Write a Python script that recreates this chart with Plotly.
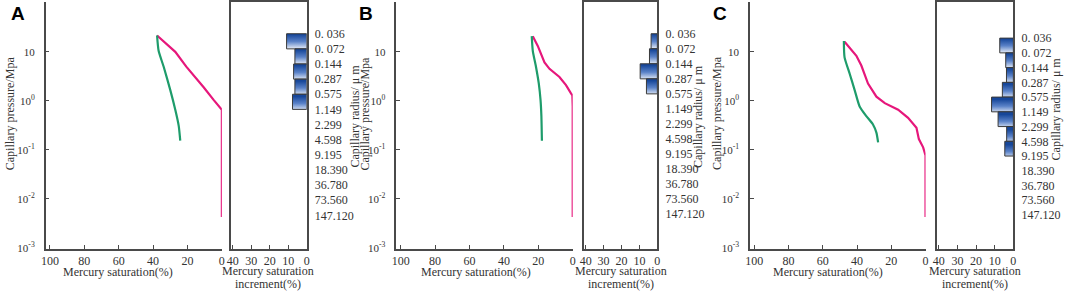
import plotly.graph_objects as go

W, H = 1065, 295

# ---------------- data ----------------
panels = ["A", "B", "C"]

# injection (pink) curves: mercury saturation (%) and capillary pressure (MPa)
inj_sat_A = [37.7, 27.1, 20.7, 15.5, 10.6, 4.8, 0.0, 0.0]
inj_p_A = [21.5, 10.0, 5.0, 3.1, 1.9, 1.05, 0.66, 0.0043]
wd_sat_A = [37.7, 36.8, 33.8, 30.0, 27.1, 25.1, 24.2]
wd_p_A = [21.5, 10.5, 4.9, 1.66, 0.66, 0.31, 0.155]

inj_sat_B = [23.2, 20.3, 16.4, 13.5, 7.7, 3.9, 1.0, 0.2, 0.0, 0.0]
inj_p_B = [20.9, 13.2, 6.1, 4.5, 3.07, 2.09, 1.42, 1.3, 0.77, 0.0043]
wd_sat_B = [23.8, 23.2, 21.3, 19.7, 18.7, 18.2, 17.9]
wd_p_B = [20.9, 10.5, 4.86, 2.25, 1.05, 0.49, 0.154]

inj_sat_C = [47.3, 40.4, 37.5, 33.6, 28.7, 23.8, 16.0, 10.2, 5.3, 3.9, 1.4, 0.0, 0.0]
inj_p_C = [16.1, 8.3, 5.25, 2.25, 1.22, 0.90, 0.66, 0.45, 0.284, 0.166, 0.113, 0.077, 0.0043]
wd_sat_C = [47.7, 47.3, 44.3, 41.4, 38.5, 34.6, 30.7, 28.7, 27.7]
wd_p_C = [16.6, 7.7, 3.57, 1.66, 0.77, 0.49, 0.33, 0.225, 0.142]

# histogram: mercury saturation increment (%) per radius class
hist_A = [10.9, 6.4, 7.1, 6.4, 7.7]
hist_B = [3.5, 4.4, 9.6, 6.1]
hist_C = [7.3, 4.1, 3.7, 5.9, 11.7, 8.2, 3.6, 4.6]

radius_labels = ["0. 036", "0. 072", "0.144", "0.287", "0.575", "1.149", "2.299",
                 "4.598", "9.195", "18.390", "36.780", "73.560", "147.120"]

sat_ticks = [100, 80, 60, 40, 20, 0]
inc_ticks = [40, 30, 20, 10, 0]
p_tickvals = [10, 1, 0.1, 0.01, 0.001]
p_ticktext = ["10", "10<sup>0</sup>", "10<sup>-1</sup>", "10<sup>-2</sup>", "10<sup>-3</sup>"]

# ---------------- layout geometry (pixels) ----------------
left_dom = {"A": (41, 218.5), "B": (394.3, 572), "C": (750.7, 927.5)}
hist_dom = {"A": (227.7, 304), "B": (583.3, 657.3), "C": (939, 1016)}
hist_y0 = {"A": (32.5, 15.5), "B": (32.5, 15.4), "C": (37, 15.1)}
letter_x = {"A": 13, "B": 364, "C": 720}
ytitle_x = {"A": 5, "B": 363, "C": 718}
xtitle_x = {"A": 114, "B": 475, "C": 829}
htitle_x = {"A": 265, "B": 621, "C": 977}
rtitle = {"A": (353, 117), "B": (698, 117), "C": (1059, 110)}

PLOT_BOTTOM = 253
PINK = "#e6177b"
GREEN = "#1e9c6b"
AX = "#4a4a4a"
TXT = "#333333"
SERIF = "Liberation Serif"

def px(x):
    return x / W

def py(y):
    return 1 - y / H

data = {
    "A": (inj_sat_A, inj_p_A, wd_sat_A, wd_p_A, hist_A),
    "B": (inj_sat_B, inj_p_B, wd_sat_B, wd_p_B, hist_B),
    "C": (inj_sat_C, inj_p_C, wd_sat_C, wd_p_C, hist_C),
}

fig = go.Figure()
layout = dict(width=W, height=H, margin=dict(l=0, r=0, t=0, b=0),
              paper_bgcolor="white", plot_bgcolor="rgba(0,0,0,0)",
              showlegend=False, font=dict(family=SERIF, size=12, color=TXT))
annotations = []

ydom = [py(PLOT_BOTTOM), 1.0]

for i, p in enumerate(panels):
    inj_s, inj_p, wd_s, wd_p, hist = data[p]
    lx = 2 * i + 1
    hx = 2 * i + 2
    lxn = "x" if lx == 1 else f"x{lx}"
    lyn = "y" if lx == 1 else f"y{lx}"
    hxn = f"x{hx}"
    hyn = f"y{hx}"

    fig.add_trace(go.Scatter(x=inj_s, y=inj_p, mode="lines", xaxis=lxn, yaxis=lyn,
                             line=dict(color=PINK, width=2.2)))
    fig.add_trace(go.Scatter(x=wd_s, y=wd_p, mode="lines", xaxis=lxn, yaxis=lyn,
                             line=dict(color=GREEN, width=2.2, shape="spline", smoothing=0.6)))

    for k, v in enumerate(hist):
        fig.add_trace(go.Scatter(
            x=[0, v, v, 0, 0], y=[k, k, k + 1, k + 1, k], mode="lines",
            xaxis=hxn, yaxis=hyn, fill="toself",
            fillgradient=dict(type="vertical", start=k, stop=k + 1,
                              colorscale=[[0, "#17479a"], [0.45, "#5a82c8"], [1, "#ffffff"]]),
            line=dict(color="#3a3a3a", width=1)))

    d0, d1 = left_dom[p]
    layout["xaxis" if lx == 1 else f"xaxis{lx}"] = dict(
        domain=[px(d0), px(d1)], range=[102.5, 0], anchor=lyn,
        tickvals=sat_ticks, ticks="inside", ticklen=4, tickcolor=AX,
        showline=True, linecolor=AX, linewidth=1.5, showgrid=False, zeroline=False,
        tickfont=dict(family=SERIF, size=12, color=TXT), ticklabelstandoff=0)
    layout["yaxis" if lx == 1 else f"yaxis{lx}"] = dict(
        domain=ydom, type="log", range=[-3.02, 2.016], anchor=lxn,
        tickvals=p_tickvals, ticktext=p_ticktext, ticks="inside", ticklen=4, tickcolor=AX,
        showline=True, linecolor=AX, linewidth=1.5, showgrid=False, zeroline=False,
        tickfont=dict(family=SERIF, size=11, color=TXT), ticklabelstandoff=7)

    h0, h1 = hist_dom[p]
    y0, step = hist_y0[p]
    layout[f"xaxis{hx}"] = dict(
        domain=[px(h0), px(h1)], range=[41, 0], anchor=hyn,
        tickvals=inc_ticks, ticks="inside", ticklen=4, tickcolor=AX,
        showline=True, mirror=True, linecolor=AX, linewidth=1.5, showgrid=False, zeroline=False,
        tickfont=dict(family=SERIF, size=12, color=TXT), ticklabelstandoff=0)
    layout[f"yaxis{hx}"] = dict(
        domain=ydom, range=[(PLOT_BOTTOM - y0) / step, -y0 / step], anchor=hxn,
        side="right", tickvals=list(range(len(radius_labels))), ticktext=radius_labels,
        ticks="", showline=True, mirror=True, linecolor=AX, linewidth=1.5,
        showgrid=False, zeroline=False,
        tickfont=dict(family=SERIF, size=12, color=TXT), ticklabelstandoff=4)

    annotations.append(dict(text=f"<b>{p}</b>", x=px(letter_x[p]), y=py(12), xref="paper", yref="paper",
                            showarrow=False, xanchor="center", yanchor="middle",
                            font=dict(family="Liberation Sans", size=19, color="black")))
    annotations.append(dict(text="Capillary pressure/Mpa", x=px(ytitle_x[p]), y=py(114), xref="paper", yref="paper",
                            showarrow=False, textangle=-90, xanchor="center", yanchor="middle",
                            font=dict(family=SERIF, size=12, color=TXT)))
    annotations.append(dict(text="Mercury saturation(%)", x=px(xtitle_x[p]), y=py(277), xref="paper", yref="paper",
                            showarrow=False, xanchor="center", yanchor="middle",
                            font=dict(family=SERIF, size=12, color=TXT)))
    annotations.append(dict(text="Mercury saturation", x=px(htitle_x[p]), y=py(276), xref="paper", yref="paper",
                            showarrow=False, xanchor="center", yanchor="middle",
                            font=dict(family=SERIF, size=12, color=TXT)))
    annotations.append(dict(text="increment(%)", x=px(htitle_x[p]), y=py(289), xref="paper", yref="paper",
                            showarrow=False, xanchor="center", yanchor="middle",
                            font=dict(family=SERIF, size=12, color=TXT)))
    rx, ry = rtitle[p]
    annotations.append(dict(text="Capillary radius/ μ m", x=px(rx), y=py(ry), xref="paper", yref="paper",
                            showarrow=False, textangle=-90, xanchor="center", yanchor="middle",
                            font=dict(family=SERIF, size=12, color=TXT)))

layout["annotations"] = annotations
fig.update_layout(**layout)
fig.write_html("out.html", config={"displayModeBar": False},
               post_script="document.body.style.margin='0';document.body.style.overflow='hidden';")
